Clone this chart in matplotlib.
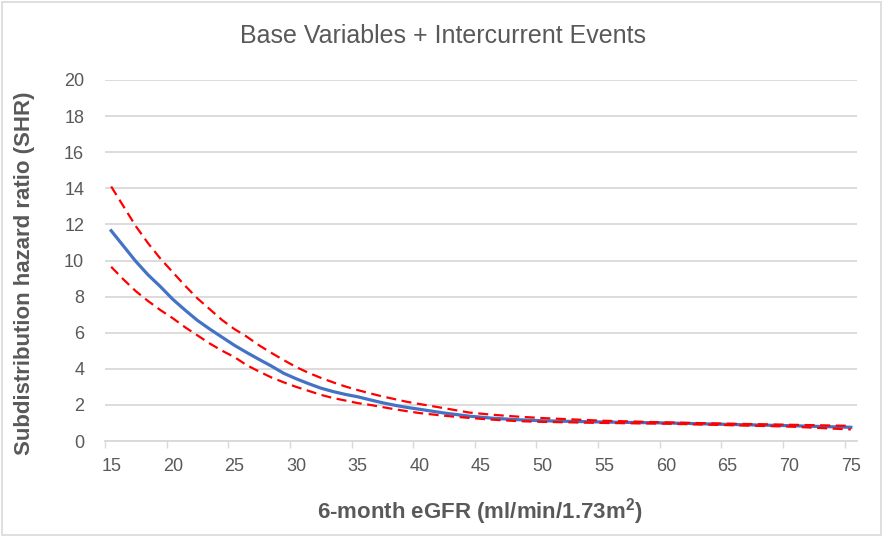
import matplotlib
matplotlib.use("Agg")
import matplotlib.pyplot as plt
from matplotlib.ticker import FixedLocator

egfr = [15, 16, 17, 18, 19, 20, 21, 22, 23, 24, 25, 26, 27, 28, 29, 30,
        31, 32, 33, 34, 35, 36, 37, 38, 39, 40, 42, 44, 46, 48, 50,
        55, 60, 65, 70, 75]
shr = [11.65, 10.8, 9.95, 9.2, 8.55, 7.85, 7.25, 6.68, 6.2, 5.75, 5.3, 4.9,
       4.52, 4.15, 3.75, 3.45, 3.18, 2.93, 2.74, 2.58, 2.45, 2.28, 2.12, 1.98,
       1.86, 1.76, 1.55, 1.38, 1.26, 1.18, 1.12, 1.05, 1.0, 0.92, 0.85, 0.76]
upper = [14.1, 13.0, 11.9, 10.95, 10.1, 9.35, 8.6, 7.9, 7.3, 6.7, 6.2, 5.78,
         5.3, 4.88, 4.48, 4.1, 3.78, 3.5, 3.25, 3.02, 2.82, 2.64, 2.47, 2.32,
         2.17, 2.05, 1.82, 1.58, 1.45, 1.35, 1.27, 1.12, 1.03, 0.96, 0.9, 0.84]
lower = [9.65, 8.95, 8.3, 7.75, 7.25, 6.8, 6.3, 5.85, 5.4, 5.0, 4.65, 4.2,
         3.85, 3.52, 3.25, 3.0, 2.78, 2.56, 2.38, 2.24, 2.1, 2.0, 1.88, 1.76,
         1.65, 1.55, 1.4, 1.28, 1.18, 1.1, 1.06, 1.0, 0.96, 0.88, 0.8, 0.64]
x_ticks = [15, 20, 25, 30, 35, 40, 45, 50, 55, 60, 65, 70, 75]
y_ticks = [0, 2, 4, 6, 8, 10, 12, 14, 16, 18, 20]

plt.rcParams['font.family'] = ['Liberation Sans', 'DejaVu Sans']
GRAY = '#595959'
GRID = '#d9d9d9'

fig = plt.figure(figsize=(8.84, 5.37), dpi=100)
fig.patch.set_facecolor('white')
# chart border
fig.add_artist(plt.Rectangle((0.002, 0.003), 0.995, 0.993, transform=fig.transFigure,
                             fill=False, edgecolor='#d9d9d9', linewidth=1.2))

ax = fig.add_axes([105/884, 1-441/537, (857-105)/884, (441-80)/537])
ax.plot(egfr, shr, color='#4472C4', linewidth=2.3, zorder=3)
ax.plot(egfr, upper, color='#FF0000', linewidth=1.6, linestyle=(0, (4.5, 2.5)), zorder=4)
ax.plot(egfr, lower, color='#FF0000', linewidth=1.6, linestyle=(0, (4.5, 2.5)), zorder=4)

ax.set_xlim(14.5, 75.5)
ax.set_ylim(0, 20)
ax.set_yticks(y_ticks)
ax.set_xticks(x_ticks)
ax.xaxis.set_minor_locator(FixedLocator([14.5 + 5*k for k in range(13)]))
ax.tick_params(axis='x', which='major', length=0, pad=12, labelsize=13, labelcolor=GRAY)
ax.tick_params(axis='x', which='minor', length=5, width=1, color=GRID, direction='out')
ax.tick_params(axis='y', length=0, pad=15, labelsize=13, labelcolor=GRAY)
ax.yaxis.grid(True, color=GRID, linewidth=1.3)
ax.set_axisbelow(True)
for s in ['top', 'right', 'left']:
    ax.spines[s].set_visible(False)
ax.spines['bottom'].set_color(GRID)
ax.spines['bottom'].set_linewidth(1.3)
ax.spines['bottom'].set_zorder(1)

fig.text(443/884, 1-36/537, 'Base Variables + Intercurrent Events', ha='center', va='center',
         fontsize=18, color=GRAY)
fig.text(25/884, 1-273/537, 'Subdistribution hazard ratio (SHR)', ha='center', va='center',
         rotation=90, fontsize=16, fontweight='bold', color=GRAY)
fig.text(480/884, 1-512/537, '6-month eGFR (ml/min/1.73m$^{\\mathregular{2}}$)', ha='center', va='center',
         fontsize=16, fontweight='bold', color=GRAY)

fig.savefig('out.png', dpi=100, facecolor='white')
